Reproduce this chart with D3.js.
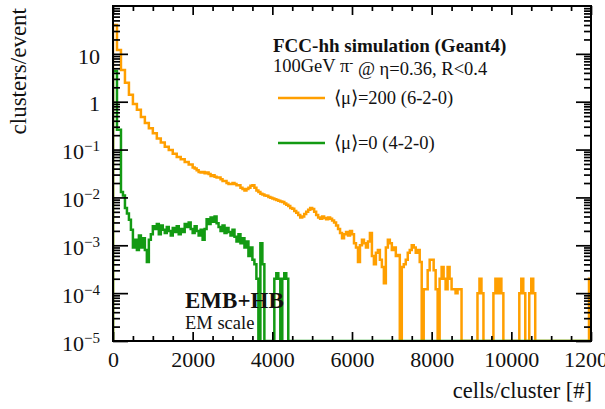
<!DOCTYPE html>
<html>
<head>
<meta charset="utf-8">
<script src="https://cdn.jsdelivr.net/npm/d3@7/dist/d3.min.js"></script>
<style>
  html, body { margin: 0; padding: 0; background: #fff; }
  svg { display: block; }
  text { font-family: "Liberation Serif", "Times New Roman", serif; fill: #111; }
</style>
</head>
<body>
<svg id="chart" width="605" height="409"></svg>
<script>
// Histogram binning: 240 bins of 50 cells from 0 to 12000
const binWidth = 50;
const xMin = 0, xMax = 12000;

// <mu>=200 (6-2-0), clusters/event per bin
const pileup200 = [
  40, 40, 12, 12, 4.6, 4.6, 2.5, 2.5, 1.4, 1.4,
  0.9, 0.9, 0.68, 0.68, 0.48, 0.48, 0.36, 0.36, 0.28, 0.28,
  0.22, 0.22, 0.17, 0.17, 0.14, 0.14, 0.115, 0.115, 0.098, 0.098,
  0.082, 0.082, 0.07, 0.07, 0.063, 0.063, 0.055, 0.055, 0.049, 0.049,
  0.042, 0.040, 0.037, 0.034, 0.033, 0.034, 0.032, 0.033, 0.031, 0.028,
  0.029, 0.027, 0.026, 0.026, 0.024, 0.022, 0.022, 0.020, 0.019, 0.019,
  0.020, 0.019, 0.018, 0.018, 0.016, 0.015, 0.014, 0.015, 0.016, 0.0175,
  0.018, 0.016, 0.014, 0.013, 0.012, 0.0115, 0.011, 0.0108, 0.0102, 0.0098,
  0.0095, 0.0092, 0.0088, 0.0085, 0.0082, 0.0080, 0.0075, 0.0070, 0.0066, 0.0060,
  0.0058, 0.0052, 0.0048, 0.0043, 0.0038, 0.0040, 0.0045, 0.0050, 0.0055, 0.0060,
  0.0057, 0.0050, 0.0043, 0.0038, 0.0036, 0.0040, 0.0037, 0.0035, 0.0038, 0.0036,
  0.0033, 0.0030, 0.0026, 0.0022, 0.0018, 0.0014, 0.0017, 0.0019, 0.0016, 0.0020,
  0.0017, 0.0011, 0.0009, 0.00045, 0.0010, 0.0013, 0.0011, 0.0009, 0.0012, 0.0018,
  0.0006, 0.0004, 0.0007, 0.0008, 0.0005, 0.00035, 0.00016, 0.0009, 0.0013, 0.0011,
  0.0008, 0.0009, 0.0006, 0.00063, 0, 0.00035, 0.0004, 0.0005, 0.0007, 0.0008,
  0.001, 0.0009, 0.0007, 0.0008, 0.00045, 0, 0.00012, 0.00012, 0.0003, 0.0005,
  0.0005, 0.0003, 0.00012, 0, 0.0002, 0.00035, 0.0002, 0.00012, 0.00035, 0.0002,
  0.00012, 0.00012, 0.0001, 0.00012, 0.00012, 0, 0, 0, 0, 0,
  0, 0, 0, 0.0001, 0.0002, 0.0001, 0, 0, 0, 0,
  0, 0.0001, 0.0002, 0.0001, 0.0002, 0.0001, 0, 0, 0, 0,
  0, 0, 0, 0, 0.0001, 0.0002, 0.0001, 0, 0, 0.0001,
  0.0002, 0.0001, 0, 0, 0, 0, 0, 0, 0, 0,
  0, 0, 0, 0, 0, 0, 0, 0, 0, 0,
  0, 0, 0, 0, 0, 0, 0, 0, 0, 0.0002
];

// <mu>=0 (4-2-0), clusters/event per bin
const pileup0 = [
  4.4, 4.4, 0.26, 0.26, 0.013, 0.011, 0.006, 0.0046, 0.0034, 0.0021,
  0.0009, 0.0013, 0.0008, 0.0016, 0.0009, 0.0014, 0.0008, 0.00045, 0.0013, 0.0017,
  0.0025, 0.0022, 0.0028, 0.0017, 0.0026, 0.0021, 0.0018, 0.0024, 0.0020, 0.0016,
  0.0023, 0.0019, 0.0025, 0.0017, 0.0022, 0.0019, 0.0028, 0.0024, 0.0030, 0.0022,
  0.0018, 0.0025, 0.0020, 0.0016, 0.0021, 0.0013, 0.0022, 0.0035, 0.0028, 0.0038,
  0.0031, 0.0040, 0.0029, 0.0024, 0.0020, 0.0026, 0.0018, 0.0023, 0.0019, 0.0016,
  0.0021, 0.0015, 0.0012, 0.0017, 0.0011, 0.0014, 0.0009, 0.0012, 0.0006, 0.0009,
  0.0005, 0.0004, 0.0002, 0, 0.0011, 0.0004, 0, 0, 0, 0,
  0, 0.0002, 0.00026, 0.0002, 0, 0.0002, 0.00026, 0.0002, 0, 0,
  ...new Array(150).fill(0)
];

// Axis ticks and labels
const xMajorTicks = [0, 2000, 4000, 6000, 8000, 10000, 12000];
const xTickLabels = ["0", "2000", "4000", "6000", "8000", "10000", "12000"];
const yDecadeExponents = [-5, -4, -3, -2, -1, 0, 1];
const yMin = 1e-5, yMax = 100;

const seriesNames = ["\u27E8\u03BC\u27E9=200 (6-2-0)", "\u27E8\u03BC\u27E9=0 (4-2-0)"];
const seriesColors = ["#ff9f00", "#139a13"];

const svg = d3.select("#chart");
const plot = { left: 113, right: 591, top: 6, bottom: 341 };

const x = d3.scaleLinear().domain([xMin, xMax]).range([plot.left, plot.right]);
const y = d3.scaleLog().domain([yMin, yMax]).range([plot.bottom, plot.top]);

svg.append("defs").append("clipPath").attr("id", "plotClip")
  .append("rect")
  .attr("x", plot.left).attr("y", plot.top - 1)
  .attr("width", plot.right - plot.left).attr("height", plot.bottom - plot.top + 2);

// Step outline of a histogram; empty bins sit on the lower edge of the log axis
const stepLine = d3.line()
  .x(d => x(d[0]))
  .y(d => y(Math.max(d[1], yMin)))
  .curve(d3.curveStepAfter);

function histPoints(values) {
  const pts = [[xMin, yMin]];
  values.forEach((v, i) => pts.push([xMin + i * binWidth, v]));
  pts.push([xMin + values.length * binWidth, values[values.length - 1]]);
  return pts;
}

const histG = svg.append("g").attr("clip-path", "url(#plotClip)");
[pileup200, pileup0].forEach((vals, k) => {
  histG.append("path")
    .attr("d", stepLine(histPoints(vals)))
    .attr("fill", "none")
    .attr("stroke", seriesColors[k])
    .attr("stroke-width", 2.5)
    .attr("stroke-linejoin", "miter");
});

// Frame
svg.append("rect")
  .attr("x", plot.left).attr("y", plot.top)
  .attr("width", plot.right - plot.left).attr("height", plot.bottom - plot.top)
  .attr("fill", "none").attr("stroke", "#000").attr("stroke-width", 2);

const xMinorTicks = d3.range(xMin, xMax + 1, 500).filter(v => !xMajorTicks.includes(v));
const yMajorValues = yDecadeExponents.map(e => Math.pow(10, e));
const yMinorValues = [];
for (let e = -5; e <= 1; e++) for (let m = 2; m <= 9; m++) yMinorValues.push(m * Math.pow(10, e));

function styleAxis(g) {
  g.select(".domain").remove();
  g.selectAll(".tick line").attr("stroke", "#000").attr("stroke-width", 1.7);
}

// Bottom axis with labels
const xAxisG = svg.append("g").attr("transform", `translate(0,${plot.bottom})`)
  .call(d3.axisBottom(x).tickValues(xMajorTicks).tickSize(-9).tickSizeOuter(0).tickPadding(10)
    .tickFormat((d, i) => xTickLabels[i]));
styleAxis(xAxisG);
xAxisG.selectAll("text").style("font-size", "22px").attr("fill", "#111");
svg.append("g").attr("transform", `translate(0,${plot.bottom})`)
  .call(d3.axisBottom(x).tickValues(xMinorTicks).tickSize(-5).tickSizeOuter(0).tickFormat(""))
  .call(styleAxis);

// Top axis ticks
svg.append("g").attr("transform", `translate(0,${plot.top})`)
  .call(d3.axisTop(x).tickValues(xMajorTicks).tickSize(-9).tickSizeOuter(0).tickFormat(""))
  .call(styleAxis);
svg.append("g").attr("transform", `translate(0,${plot.top})`)
  .call(d3.axisTop(x).tickValues(xMinorTicks).tickSize(-5).tickSizeOuter(0).tickFormat(""))
  .call(styleAxis);

// Left axis with power-of-ten labels
const yAxisG = svg.append("g").attr("transform", `translate(${plot.left},0)`)
  .call(d3.axisLeft(y).tickValues(yMajorValues).tickSize(-15).tickSizeOuter(0).tickPadding(13)
    .tickFormat(() => ""));
styleAxis(yAxisG);
yAxisG.selectAll(".tick text").each(function (d, i) {
  const e = yDecadeExponents[i];
  const t = d3.select(this).text(null).attr("dy", "0.42em").style("font-size", "22px").attr("fill", "#111");
  if (e === 0) { t.append("tspan").text("1"); }
  else if (e === 1) { t.append("tspan").text("10"); }
  else {
    t.append("tspan").text("10");
    t.append("tspan").attr("dy", "-0.55em").style("font-size", "15px").text("\u2212" + Math.abs(e));
  }
});
svg.append("g").attr("transform", `translate(${plot.left},0)`)
  .call(d3.axisLeft(y).tickValues(yMinorValues).tickSize(-7).tickSizeOuter(0).tickFormat(""))
  .call(styleAxis);

// Right axis ticks
svg.append("g").attr("transform", `translate(${plot.right},0)`)
  .call(d3.axisRight(y).tickValues(yMajorValues).tickSize(-15).tickSizeOuter(0).tickFormat(""))
  .call(styleAxis);
svg.append("g").attr("transform", `translate(${plot.right},0)`)
  .call(d3.axisRight(y).tickValues(yMinorValues).tickSize(-7).tickSizeOuter(0).tickFormat(""))
  .call(styleAxis);

// Axis titles
svg.append("text")
  .attr("transform", "translate(26,8) rotate(-90)")
  .attr("text-anchor", "end")
  .style("font-size", "23px")
  .text("clusters/event");

svg.append("text")
  .attr("x", 592).attr("y", 398)
  .attr("text-anchor", "end")
  .style("font-size", "22.5px")
  .text("cells/cluster [#]");

// Header
svg.append("text")
  .attr("x", 273).attr("y", 52)
  .style("font-size", "19px").style("font-weight", "bold")
  .text("FCC-hh simulation (Geant4)");

const sub = svg.append("text").attr("x", 273).attr("y", 72).style("font-size", "18.5px");
sub.append("tspan").text("100GeV \u03C0");
sub.append("tspan").attr("dy", "-0.45em").style("font-size", "12px").text("-");
sub.append("tspan").attr("dy", "0.45em").text(" @ \u03B7=0.36, R<0.4");

// Legend
const legendY = [98, 143];
seriesNames.forEach((name, k) => {
  svg.append("line")
    .attr("x1", 278).attr("x2", 325)
    .attr("y1", legendY[k]).attr("y2", legendY[k])
    .attr("stroke", seriesColors[k]).attr("stroke-width", 2.5);
  svg.append("text")
    .attr("x", 334).attr("y", legendY[k] + 6)
    .style("font-size", "18.5px")
    .text(name);
});

// Detector label
svg.append("text")
  .attr("x", 185).attr("y", 308)
  .style("font-size", "23px").style("font-weight", "bold")
  .text("EMB+HB");
svg.append("text")
  .attr("x", 185).attr("y", 329)
  .style("font-size", "18.5px")
  .text("EM scale");
</script>
</body>
</html>
